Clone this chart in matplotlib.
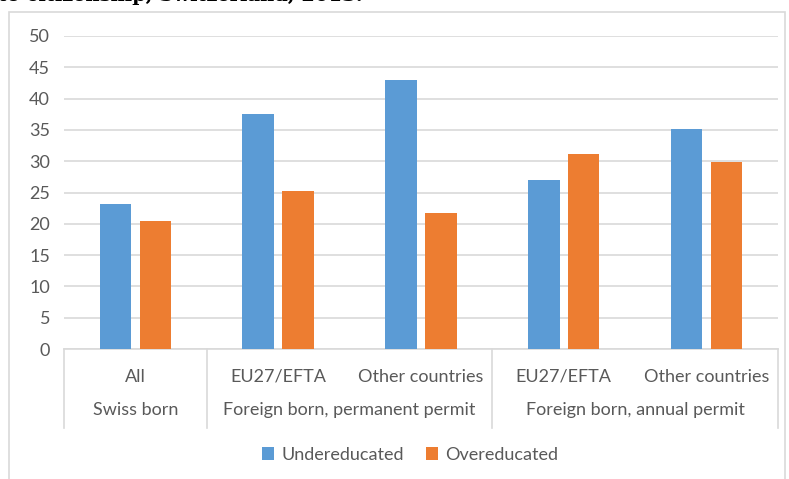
import numpy as np
import matplotlib.pyplot as plt
from matplotlib.lines import Line2D
from matplotlib.patches import Rectangle
import matplotlib.transforms as mtransforms

# chart values
sub_labels = ['All', 'EU27/EFTA', 'Other countries', 'EU27/EFTA', 'Other countries']
group_labels = ['Swiss born', 'Foreign born, permanent permit', 'Foreign born, annual permit']
group_spans = [(0, 0), (1, 2), (3, 4)]
undereducated = [23.2, 37.6, 42.9, 27.0, 35.1]
overeducated = [20.4, 25.3, 21.8, 31.2, 29.9]
yticks = list(range(0, 55, 5))

blue = '#5b9bd5'
orange = '#ed7d31'
grid_col = '#d9d9d9'
text_col = '#595959'

plt.rcParams['font.family'] = ['Lato', 'DejaVu Sans']

fig = plt.figure(figsize=(7.89, 4.79), dpi=100)
ax = fig.add_axes([64 / 789, 1 - 349 / 479, (778 - 64) / 789, (349 - 36) / 479])

x = np.arange(len(sub_labels))
w = 0.22
off = 0.14
ax.bar(x - off, undereducated, w, color=blue, label='Undereducated', zorder=3)
ax.bar(x + off, overeducated, w, color=orange, label='Overeducated', zorder=3)

ax.set_xlim(-0.5, len(sub_labels) - 0.5)
ax.set_ylim(0, 50)
ax.set_yticks(yticks)
ax.yaxis.grid(True, color=grid_col, lw=1.2, zorder=0)
ax.tick_params(axis='y', length=0, pad=10, labelsize=13, labelcolor=text_col)
ax.set_xticks([])
for s in ['top', 'right', 'left']:
    ax.spines[s].set_visible(False)
ax.spines['bottom'].set_color(grid_col)
ax.spines['bottom'].set_linewidth(1.2)

# two-level category axis
trans = mtransforms.blended_transform_factory(ax.transData, ax.transAxes)
h = 313.0
for i, lab in enumerate(sub_labels):
    ax.text(i, -(377 - 349) / h, lab, transform=trans, ha='center', va='center',
            fontsize=13, color=text_col)
for (a, b), lab in zip(group_spans, group_labels):
    ax.text((a + b) / 2, -(410 - 349) / h, lab, transform=trans, ha='center', va='center',
            fontsize=13, color=text_col)
for xs in [-0.5, 0.5, 2.5, 4.5]:
    ax.add_line(Line2D([xs, xs], [0, -(428 - 349) / h], transform=trans, color=grid_col,
                       lw=1.2, clip_on=False))

fig.legend(loc='center', bbox_to_anchor=(410 / 789, 1 - 455 / 479), ncol=2, frameon=False,
           handlelength=0.7, handleheight=0.7, handletextpad=0.4, columnspacing=1.2,
           prop={'size': 13}, labelcolor=text_col)

# outer chart border
fig.add_artist(Rectangle((9 / 789, -0.05), (785 - 9) / 789, 1.05 - 12 / 479,
                         transform=fig.transFigure, fill=False, edgecolor=grid_col, lw=1.2))

# title cut off at the top of the picture
fig.text(-0.002, 1 - 1 / 479, 'to citizenship, Switzerland, 2013.', fontsize=14,
         fontweight='bold', family='DejaVu Serif', color='black', va='baseline', ha='left')

fig.savefig('out.png', dpi=100)
